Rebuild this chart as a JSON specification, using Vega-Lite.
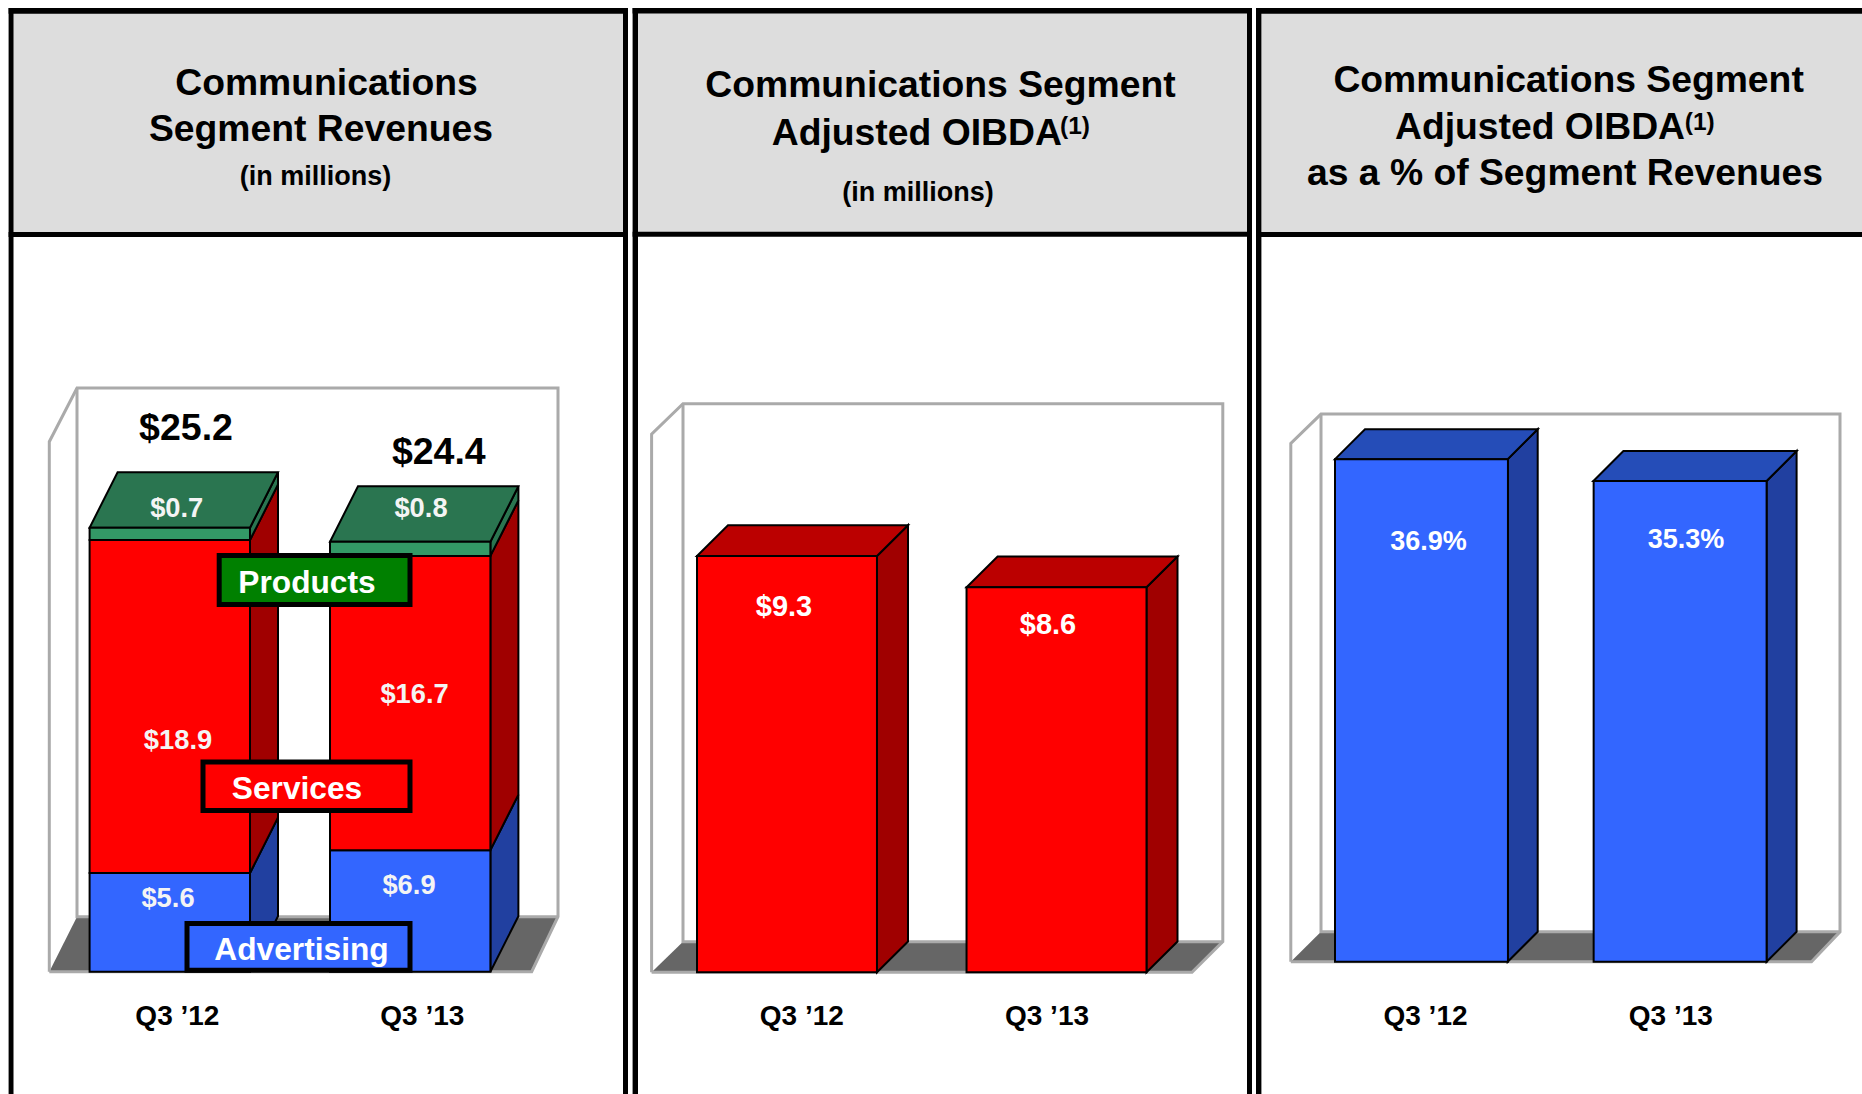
{
"$schema":"https://vega.github.io/schema/vega-lite/v6.json",
"padding":0,
"background":"white",
"spacing":0,
"bounds":"flush",
"config":{"view":{"stroke":null},"axis":{"disable":true},"legend":{"disable":true},"text":{"font":"Liberation Sans","fontWeight":"bold","align":"center","baseline":"middle"}},
"hconcat":[
{"width":630,"height":1094,
 "resolve":{"scale":{"x":"independent","color":"independent"}},
 "layer":[
  {"layer":[
   {"data":{"values":[{"x":13,"x2":623,"y":54.5,"y2":41.8}]},"mark":{"type":"rect","fill":"#dddddd"},
    "encoding":{"x":{"field":"x","type":"quantitative","scale":{"domain":[0,630],"nice":false,"zero":false}},"x2":{"field":"x2"},"y":{"field":"y","type":"quantitative","scale":{"domain":[-6.94,55.15],"nice":false,"zero":false}},"y2":{"field":"y2"}}},
   {"data":{"values":[{"x":8.6,"x2":13.5,"y":-6.94,"y2":54.69},{"x":623,"x2":628,"y":-6.94,"y2":54.69},{"x":8.6,"x2":628,"y":54.69,"y2":54.37},{"x":8.6,"x2":628,"y":41.98,"y2":41.7}]},"mark":{"type":"rect","fill":"#000000"},
    "encoding":{"x":{"field":"x","type":"quantitative"},"x2":{"field":"x2"},"y":{"field":"y","type":"quantitative"},"y2":{"field":"y2"}}},
   {"data":{"values":[{"x":49.3,"low":0,"high":0},{"x":77,"low":0,"high":3.12},{"x":531.7,"low":0,"high":3.12},{"x":558,"low":3.12,"high":3.12}]},"mark":{"type":"area","fill":"#666666"},
    "encoding":{"x":{"field":"x","type":"quantitative"},"y":{"field":"low","type":"quantitative","stack":null},"y2":{"field":"high"}}},
   {"data":{"values":[
     {"path":"outer","n":1,"x":49.3,"y":0},{"path":"outer","n":2,"x":49.3,"y":30.08},{"path":"outer","n":3,"x":77,"y":33.13},{"path":"outer","n":4,"x":558,"y":33.13},{"path":"outer","n":5,"x":558,"y":3.12},{"path":"outer","n":6,"x":531.7,"y":0},{"path":"outer","n":7,"x":49.3,"y":0},
     {"path":"inner","n":1,"x":77,"y":33.13},{"path":"inner","n":2,"x":77,"y":3.12},{"path":"inner","n":3,"x":558,"y":3.12}]},
    "mark":{"type":"line","stroke":"#aaaaaa","strokeWidth":3,"strokeJoin":"miter"},
    "encoding":{"x":{"field":"x","type":"quantitative"},"y":{"field":"y","type":"quantitative"},"detail":{"field":"path"},"order":{"field":"n"}}},
   {"data":{"values":[
     {"shape":"a1","kind":"blue side","x":250,"low":0,"high":5.6},{"shape":"a1","kind":"blue side","x":278,"low":3.15,"high":8.75},
     {"shape":"r1","kind":"red side","x":250,"low":5.6,"high":24.5},{"shape":"r1","kind":"red side","x":278,"low":8.75,"high":27.65},
     {"shape":"g1","kind":"green side","x":250,"low":24.5,"high":25.2},{"shape":"g1","kind":"green side","x":278,"low":27.65,"high":28.35},
     {"shape":"t1","kind":"green top","x":89.6,"low":25.2,"high":25.2},{"shape":"t1","kind":"green top","x":117.6,"low":25.2,"high":28.35},{"shape":"t1","kind":"green top","x":250,"low":25.2,"high":28.35},{"shape":"t1","kind":"green top","x":278,"low":28.35,"high":28.35},
     {"shape":"a2","kind":"blue side","x":490.4,"low":0,"high":6.9},{"shape":"a2","kind":"blue side","x":518.4,"low":3.15,"high":10.05},
     {"shape":"r2","kind":"red side","x":490.4,"low":6.9,"high":23.6},{"shape":"r2","kind":"red side","x":518.4,"low":10.05,"high":26.75},
     {"shape":"g2","kind":"green side","x":490.4,"low":23.6,"high":24.4},{"shape":"g2","kind":"green side","x":518.4,"low":26.75,"high":27.55},
     {"shape":"t2","kind":"green top","x":330,"low":24.4,"high":24.4},{"shape":"t2","kind":"green top","x":358,"low":24.4,"high":27.55},{"shape":"t2","kind":"green top","x":490.4,"low":24.4,"high":27.55},{"shape":"t2","kind":"green top","x":518.4,"low":27.55,"high":27.55}]},
    "mark":{"type":"area","stroke":"#000000","strokeWidth":2},
    "encoding":{"x":{"field":"x","type":"quantitative"},"y":{"field":"low","type":"quantitative","stack":null},"y2":{"field":"high"},"detail":{"field":"shape"},
     "color":{"field":"kind","type":"nominal","scale":{"domain":["blue side","red side","green side","green top"],"range":["#2140a0","#a00000","#2a7550","#2a7550"]}}}}
  ]},
  {"data":{"values":[
    {"quarter":"Q3 ’12","segment":"Advertising","rank":1,"value":5.6},{"quarter":"Q3 ’12","segment":"Services","rank":2,"value":18.9},{"quarter":"Q3 ’12","segment":"Products","rank":3,"value":0.7},
    {"quarter":"Q3 ’13","segment":"Advertising","rank":1,"value":6.9},{"quarter":"Q3 ’13","segment":"Services","rank":2,"value":16.7},{"quarter":"Q3 ’13","segment":"Products","rank":3,"value":0.8}]},
   "mark":{"type":"bar","stroke":"#000000","strokeWidth":2},
   "encoding":{"x":{"field":"quarter","type":"nominal","scale":{"domain":["Q3 ’12","Q3 ’13"],"range":[89.6,490.4],"paddingInner":0.3328,"paddingOuter":0}},
    "y":{"field":"value","type":"quantitative","stack":"zero"},"order":{"field":"rank"},
    "color":{"field":"segment","type":"nominal","scale":{"domain":["Advertising","Services","Products"],"range":["#3366ff","#ff0000","#339966"]}}}},
  {"layer":[
   {"data":{"values":[{"segment":"Products","x":219.2,"x2":410,"y":23.62,"y2":20.84},{"segment":"Services","x":203,"x2":410,"y":11.9,"y2":9.15},{"segment":"Advertising","x":187,"x2":410,"y":2.74,"y2":0.085}]},
    "mark":{"type":"rect","stroke":"#000000","strokeWidth":5},
    "encoding":{"x":{"field":"x","type":"quantitative","scale":{"domain":[0,630],"nice":false,"zero":false}},"x2":{"field":"x2"},"y":{"field":"y","type":"quantitative"},"y2":{"field":"y2"},
     "color":{"field":"segment","type":"nominal","scale":{"domain":["Advertising","Services","Products"],"range":["#3366ff","#ff0000","#008000"]}}}},
   {"data":{"values":[{"label":"Products","x":307,"y":22.04},{"label":"Services","x":297,"y":10.37},{"label":"Advertising","x":301.5,"y":1.22}]},
    "mark":{"type":"text","fontSize":31.7,"fill":"#ffffff"},
    "encoding":{"x":{"field":"x","type":"quantitative"},"y":{"field":"y","type":"quantitative"},"text":{"field":"label"}}},
   {"data":{"values":[{"label":"Communications","x":326.5,"y":50.38},{"label":"Segment Revenues","x":321,"y":47.75}]},
    "mark":{"type":"text","fontSize":37.3,"fill":"#000000"},
    "encoding":{"x":{"field":"x","type":"quantitative"},"y":{"field":"y","type":"quantitative"},"text":{"field":"label"}}},
   {"data":{"values":[{"label":"(in millions)","x":315.5,"y":45.12}]},
    "mark":{"type":"text","fontSize":27,"fill":"#000000"},
    "encoding":{"x":{"field":"x","type":"quantitative"},"y":{"field":"y","type":"quantitative"},"text":{"field":"label"}}},
   {"data":{"values":[{"label":"$25.2","x":186,"y":30.8},{"label":"$24.4","x":438.8,"y":29.42}]},
    "mark":{"type":"text","fontSize":37.5,"fill":"#000000"},
    "encoding":{"x":{"field":"x","type":"quantitative"},"y":{"field":"y","type":"quantitative"},"text":{"field":"label"}}},
   {"data":{"values":[{"label":"$0.7","x":176.7,"y":26.25},{"label":"$0.8","x":421,"y":26.28},{"label":"$18.9","x":178,"y":13.1},{"label":"$16.7","x":414.6,"y":15.68},{"label":"$5.6","x":168,"y":4.15},{"label":"$6.9","x":409,"y":4.87}]},
    "mark":{"type":"text","fontSize":27.3,"fill":"#f4f4f4"},
    "encoding":{"x":{"field":"x","type":"quantitative"},"y":{"field":"y","type":"quantitative"},"text":{"field":"label"}}},
   {"data":{"values":[{"label":"Q3 ’12","x":177.4,"y":-2.59},{"label":"Q3 ’13","x":422.3,"y":-2.59}]},
    "mark":{"type":"text","fontSize":28,"fill":"#000000"},
    "encoding":{"x":{"field":"x","type":"quantitative"},"y":{"field":"y","type":"quantitative"},"text":{"field":"label"}}}
  ]}
 ]},
{"width":624,"height":1094,
 "resolve":{"scale":{"x":"independent","color":"independent"}},
 "layer":[
  {"layer":[
   {"data":{"values":[{"x":8,"x2":617,"y":21.48,"y2":16.48}]},"mark":{"type":"rect","fill":"#dddddd"},
    "encoding":{"x":{"field":"x","type":"quantitative","scale":{"domain":[0,624],"nice":false,"zero":false}},"x2":{"field":"x2"},"y":{"field":"y","type":"quantitative","scale":{"domain":[-2.72,21.72],"nice":false,"zero":false}},"y2":{"field":"y2"}}},
   {"data":{"values":[{"x":2.6,"x2":8,"y":-2.72,"y2":21.54},{"x":617,"x2":622,"y":-2.72,"y2":21.54},{"x":2.6,"x2":622,"y":21.54,"y2":21.42},{"x":2.6,"x2":622,"y":16.54,"y2":16.43}]},"mark":{"type":"rect","fill":"#000000"},
    "encoding":{"x":{"field":"x","type":"quantitative"},"x2":{"field":"x2"},"y":{"field":"y","type":"quantitative"},"y2":{"field":"y2"}}},
   {"data":{"values":[{"x":21.6,"low":0,"high":0},{"x":53,"low":0,"high":0.684},{"x":562,"low":0,"high":0.684},{"x":592.8,"low":0.684,"high":0.684}]},"mark":{"type":"area","fill":"#666666"},
    "encoding":{"x":{"field":"x","type":"quantitative"},"y":{"field":"low","type":"quantitative","stack":null},"y2":{"field":"high"}}},
   {"data":{"values":[
     {"path":"outer","n":1,"x":21.6,"y":0},{"path":"outer","n":2,"x":21.6,"y":12.02},{"path":"outer","n":3,"x":53,"y":12.7},{"path":"outer","n":4,"x":592.8,"y":12.7},{"path":"outer","n":5,"x":592.8,"y":0.684},{"path":"outer","n":6,"x":562,"y":0},{"path":"outer","n":7,"x":21.6,"y":0},
     {"path":"inner","n":1,"x":53,"y":12.7},{"path":"inner","n":2,"x":53,"y":0.684},{"path":"inner","n":3,"x":592.8,"y":0.684}]},
    "mark":{"type":"line","stroke":"#aaaaaa","strokeWidth":3,"strokeJoin":"miter"},
    "encoding":{"x":{"field":"x","type":"quantitative"},"y":{"field":"y","type":"quantitative"},"detail":{"field":"path"},"order":{"field":"n"}}},
   {"data":{"values":[
     {"shape":"s1","kind":"side","x":247,"low":0,"high":9.3},{"shape":"s1","kind":"side","x":278,"low":0.686,"high":9.986},
     {"shape":"t1","kind":"top","x":67,"low":9.3,"high":9.3},{"shape":"t1","kind":"top","x":98,"low":9.3,"high":9.986},{"shape":"t1","kind":"top","x":247,"low":9.3,"high":9.986},{"shape":"t1","kind":"top","x":278,"low":9.986,"high":9.986},
     {"shape":"s2","kind":"side","x":516.5,"low":0,"high":8.6},{"shape":"s2","kind":"side","x":547.5,"low":0.686,"high":9.286},
     {"shape":"t2","kind":"top","x":336.6,"low":8.6,"high":8.6},{"shape":"t2","kind":"top","x":367.6,"low":8.6,"high":9.286},{"shape":"t2","kind":"top","x":516.5,"low":8.6,"high":9.286},{"shape":"t2","kind":"top","x":547.5,"low":9.286,"high":9.286}]},
    "mark":{"type":"area","stroke":"#000000","strokeWidth":2},
    "encoding":{"x":{"field":"x","type":"quantitative"},"y":{"field":"low","type":"quantitative","stack":null},"y2":{"field":"high"},"detail":{"field":"shape"},
     "color":{"field":"kind","type":"nominal","scale":{"domain":["side","top"],"range":["#a00000","#bb0000"]}}}}
  ]},
  {"data":{"values":[{"quarter":"Q3 ’12","value":9.3},{"quarter":"Q3 ’13","value":8.6}]},
   "mark":{"type":"bar","fill":"#ff0000","stroke":"#000000","strokeWidth":2},
   "encoding":{"x":{"field":"quarter","type":"nominal","scale":{"domain":["Q3 ’12","Q3 ’13"],"range":[67,516.5],"paddingInner":0.3323,"paddingOuter":0}},
    "y":{"field":"value","type":"quantitative"}}},
  {"layer":[
   {"data":{"values":[{"label":"Communications Segment","x":310.5,"y":19.79},{"label":"Adjusted OIBDA","x":286.8,"y":18.73}]},
    "mark":{"type":"text","fontSize":37.3,"fill":"#000000"},
    "encoding":{"x":{"field":"x","type":"quantitative","scale":{"domain":[0,624],"nice":false,"zero":false}},"y":{"field":"y","type":"quantitative"},"text":{"field":"label"}}},
   {"data":{"values":[{"label":"(in millions)","x":288,"y":17.4}]},
    "mark":{"type":"text","fontSize":27,"fill":"#000000"},
    "encoding":{"x":{"field":"x","type":"quantitative"},"y":{"field":"y","type":"quantitative"},"text":{"field":"label"}}},
   {"data":{"values":[{"label":"(1)","x":445,"y":18.89}]},
    "mark":{"type":"text","fontSize":24.5,"fill":"#000000"},
    "encoding":{"x":{"field":"x","type":"quantitative"},"y":{"field":"y","type":"quantitative"},"text":{"field":"label"}}},
   {"data":{"values":[{"label":"$9.3","x":154,"y":8.16},{"label":"$8.6","x":418,"y":7.76}]},
    "mark":{"type":"text","fontSize":29,"fill":"#ffffff"},
    "encoding":{"x":{"field":"x","type":"quantitative"},"y":{"field":"y","type":"quantitative"},"text":{"field":"label"}}},
   {"data":{"values":[{"label":"Q3 ’12","x":171.8,"y":-1.007},{"label":"Q3 ’13","x":417,"y":-1.007}]},
    "mark":{"type":"text","fontSize":28,"fill":"#000000"},
    "encoding":{"x":{"field":"x","type":"quantitative"},"y":{"field":"y","type":"quantitative"},"text":{"field":"label"}}}
  ]}
 ]},
{"width":608,"height":1094,
 "resolve":{"scale":{"x":"independent","color":"independent"}},
 "layer":[
  {"layer":[
   {"data":{"values":[{"x":7.4,"x2":608,"y":69.8,"y2":53.4}]},"mark":{"type":"rect","fill":"#dddddd"},
    "encoding":{"x":{"field":"x","type":"quantitative","scale":{"domain":[0,608],"nice":false,"zero":false}},"x2":{"field":"x2"},"y":{"field":"y","type":"quantitative","scale":{"domain":[-9.71,70.61],"nice":false,"zero":false}},"y2":{"field":"y2"}}},
   {"data":{"values":[{"x":2,"x2":7.4,"y":-9.71,"y2":70.02},{"x":2,"x2":608,"y":70.02,"y2":69.6},{"x":2,"x2":608,"y":53.58,"y2":53.21}]},"mark":{"type":"rect","fill":"#000000"},
    "encoding":{"x":{"field":"x","type":"quantitative"},"x2":{"field":"x2"},"y":{"field":"y","type":"quantitative"},"y2":{"field":"y2"}}},
   {"data":{"values":[{"x":36.8,"low":0,"high":0},{"x":67,"low":0,"high":2.2},{"x":557.5,"low":0,"high":2.2},{"x":586,"low":2.2,"high":2.2}]},"mark":{"type":"area","fill":"#666666"},
    "encoding":{"x":{"field":"x","type":"quantitative"},"y":{"field":"low","type":"quantitative","stack":null},"y2":{"field":"high"}}},
   {"data":{"values":[
     {"path":"outer","n":1,"x":36.8,"y":0},{"path":"outer","n":2,"x":36.8,"y":38.06},{"path":"outer","n":3,"x":67,"y":40.21},{"path":"outer","n":4,"x":586,"y":40.21},{"path":"outer","n":5,"x":586,"y":2.2},{"path":"outer","n":6,"x":557.5,"y":0},{"path":"outer","n":7,"x":36.8,"y":0},
     {"path":"inner","n":1,"x":67,"y":40.21},{"path":"inner","n":2,"x":67,"y":2.2},{"path":"inner","n":3,"x":586,"y":2.2}]},
    "mark":{"type":"line","stroke":"#aaaaaa","strokeWidth":3,"strokeJoin":"miter"},
    "encoding":{"x":{"field":"x","type":"quantitative"},"y":{"field":"y","type":"quantitative"},"detail":{"field":"path"},"order":{"field":"n"}}},
   {"data":{"values":[
     {"shape":"s1","kind":"side","x":253.7,"low":0,"high":36.9},{"shape":"s1","kind":"side","x":283.7,"low":2.2,"high":39.1},
     {"shape":"t1","kind":"top","x":81,"low":36.9,"high":36.9},{"shape":"t1","kind":"top","x":111,"low":36.9,"high":39.1},{"shape":"t1","kind":"top","x":253.7,"low":36.9,"high":39.1},{"shape":"t1","kind":"top","x":283.7,"low":39.1,"high":39.1},
     {"shape":"s2","kind":"side","x":512.6,"low":0,"high":35.3},{"shape":"s2","kind":"side","x":542.6,"low":2.2,"high":37.5},
     {"shape":"t2","kind":"top","x":339.4,"low":35.3,"high":35.3},{"shape":"t2","kind":"top","x":369.4,"low":35.3,"high":37.5},{"shape":"t2","kind":"top","x":512.6,"low":35.3,"high":37.5},{"shape":"t2","kind":"top","x":542.6,"low":37.5,"high":37.5}]},
    "mark":{"type":"area","stroke":"#000000","strokeWidth":2},
    "encoding":{"x":{"field":"x","type":"quantitative"},"y":{"field":"low","type":"quantitative","stack":null},"y2":{"field":"high"},"detail":{"field":"shape"},
     "color":{"field":"kind","type":"nominal","scale":{"domain":["side","top"],"range":["#2140a0","#254db8"]}}}}
  ]},
  {"data":{"values":[{"quarter":"Q3 ’12","value":36.9},{"quarter":"Q3 ’13","value":35.3}]},
   "mark":{"type":"bar","fill":"#3366ff","stroke":"#000000","strokeWidth":2},
   "encoding":{"x":{"field":"quarter","type":"nominal","scale":{"domain":["Q3 ’12","Q3 ’13"],"range":[81,512.6],"paddingInner":0.3313,"paddingOuter":0}},
    "y":{"field":"value","type":"quantitative"}}},
  {"layer":[
   {"data":{"values":[{"label":"Communications Segment","x":314.6,"y":64.65},{"label":"Adjusted OIBDA","x":286,"y":61.19},{"label":"as a % of Segment Revenues","x":311,"y":57.87}]},
    "mark":{"type":"text","fontSize":37.3,"fill":"#000000"},
    "encoding":{"x":{"field":"x","type":"quantitative","scale":{"domain":[0,608],"nice":false,"zero":false}},"y":{"field":"y","type":"quantitative"},"text":{"field":"label"}}},
   {"data":{"values":[{"label":"(1)","x":445.7,"y":61.6}]},
    "mark":{"type":"text","fontSize":24.5,"fill":"#000000"},
    "encoding":{"x":{"field":"x","type":"quantitative"},"y":{"field":"y","type":"quantitative"},"text":{"field":"label"}}},
   {"data":{"values":[{"label":"36.9%","x":174.5,"y":30.85},{"label":"35.3%","x":432,"y":31}]},
    "mark":{"type":"text","fontSize":27,"fill":"#ffffff"},
    "encoding":{"x":{"field":"x","type":"quantitative"},"y":{"field":"y","type":"quantitative"},"text":{"field":"label"}}},
   {"data":{"values":[{"label":"Q3 ’12","x":171.5,"y":-4.07},{"label":"Q3 ’13","x":416.8,"y":-4.07}]},
    "mark":{"type":"text","fontSize":28,"fill":"#000000"},
    "encoding":{"x":{"field":"x","type":"quantitative"},"y":{"field":"y","type":"quantitative"},"text":{"field":"label"}}}
  ]}
 ]}
]}
